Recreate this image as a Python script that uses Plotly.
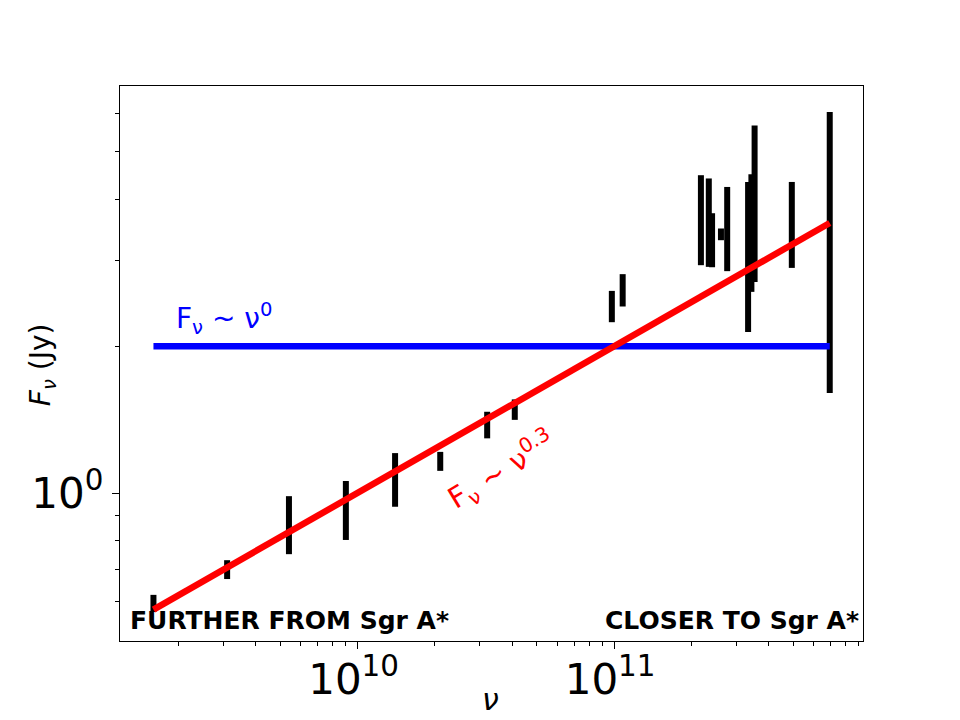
import numpy as np
import plotly.graph_objects as go

# Frequencies (Hz) and flux ranges (Jy)
nu = [1.6e9, 3.1e9, 5.4e9, 9.0e9, 1.4e10, 2.1e10, 3.2e10, 4.1e10, 9.8e10, 1.08e11,
      2.18e11, 2.34e11, 2.41e11, 2.61e11, 2.76e11, 3.33e11, 3.43e11, 3.53e11, 4.93e11, 6.93e11]
flux_low = [0.572, 0.668, 0.751, 0.803, 0.939, 1.112, 1.296, 1.414, 2.240, 2.412,
            2.930, 2.907, 2.902, 3.296, 2.849, 2.140, 2.584, 2.708, 2.893, 1.604]
flux_high = [0.620, 0.730, 0.987, 1.060, 1.209, 1.216, 1.469, 1.557, 2.596, 2.809,
             4.477, 4.409, 3.743, 3.483, 4.236, 4.337, 4.497, 5.656, 4.337, 6.03]

flat_level = 2.0
slope = 0.3
nu_ref = 1e11

x_ticks = [1e10, 1e11]
x_ticktext = ["10<sup>10</sup>", "10<sup>11</sup>"]
y_ticks = [1.0]
y_ticktext = ["10<sup>0</sup>"]
x_minor = [m * 10.0 ** e for e in (9, 10, 11) for m in range(2, 10)]
y_minor = [0.6, 0.7, 0.8, 0.9, 2, 3, 4, 5, 6]

FONT = "DejaVu Sans"

nu_arr = np.array(nu)

# vertical bars as segments
xs, ys = [], []
for n, a, b in zip(nu, flux_low, flux_high):
    xs += [n, n, None]
    ys += [a, b, None]

fig = go.Figure()
fig.add_trace(go.Scatter(x=xs, y=ys, mode="lines",
                         line=dict(color="black", width=6), hoverinfo="skip"))

nu_line = [nu_arr.min(), nu_arr.max()]
fig.add_trace(go.Scatter(x=nu_line, y=[flat_level, flat_level], mode="lines",
                         line=dict(color="#0000ff", width=6.5)))
fig.add_trace(go.Scatter(x=nu_line,
                         y=[flat_level * (v / nu_ref) ** slope for v in nu_line],
                         mode="lines", line=dict(color="#ff0000", width=6.5)))

axis_common = dict(showline=True, linecolor="black", linewidth=1.3, mirror=True,
                   ticks="outside", ticklen=7, tickwidth=1.2, tickcolor="black",
                   showgrid=False, zeroline=False,
                   tickfont=dict(family=FONT, size=42, color="black"))

fig.update_xaxes(type="log", range=[9.0737, 11.9704], tickmode="array",
                 tickvals=x_ticks, ticktext=x_ticktext,
                 ticklabelstandoff=-6, ticklabelshift=-4,
                 minor=dict(tickvals=x_minor, ticks="outside", ticklen=4,
                            tickwidth=1, tickcolor="black"),
                 **axis_common)
fig.update_yaxes(type="log", range=[-0.302, 0.8335], tickmode="array",
                 tickvals=y_ticks, ticktext=y_ticktext,
                 minor=dict(tickvals=y_minor, ticks="outside", ticklen=4,
                            tickwidth=1, tickcolor="black"),
                 **axis_common)

annotations = [
    dict(x=np.log10(1.92e9), y=0.3585, xref="x", yref="y", xanchor="left", yanchor="middle",
         text="F<sub>ν</sub> ~ ν<sup>0</sup>", showarrow=False,
         font=dict(family=FONT, size=28, color="#0000ff")),
    dict(x=10.5624, y=0.0476, xref="x", yref="y", xanchor="center", yanchor="middle",
         text="F<sub>ν</sub> ~ ν<sup>0.3</sup>", showarrow=False, textangle=-31,
         font=dict(family=FONT, size=29, color="#ff0000")),
    dict(x=0.0108, y=0.0378, xref="paper", yref="paper", xanchor="left", yanchor="middle",
         text="<b>FURTHER FROM Sgr A*</b>", showarrow=False,
         font=dict(family=FONT, size=25, color="black")),
    dict(x=0.9969, y=0.0378, xref="paper", yref="paper", xanchor="right", yanchor="middle",
         text="<b>CLOSER TO Sgr A*</b>", showarrow=False,
         font=dict(family=FONT, size=25, color="black")),
    dict(x=-0.105, y=0.4988, xref="paper", yref="paper", xanchor="center", yanchor="middle",
         text="<i>F<sub>ν</sub></i> (Jy)", showarrow=False, textangle=-90,
         font=dict(family=FONT, size=28, color="black")),
    dict(x=0.4991, y=-0.1046, xref="paper", yref="paper", xanchor="center", yanchor="middle",
         text="<i>ν</i>", showarrow=False,
         font=dict(family=FONT, size=30, color="black")),
]

fig.update_layout(width=960, height=720, showlegend=False,
                  paper_bgcolor="white", plot_bgcolor="white",
                  margin=dict(l=120, r=96.7, t=85.7, b=79),
                  annotations=annotations)

fig.write_html("out.html")
